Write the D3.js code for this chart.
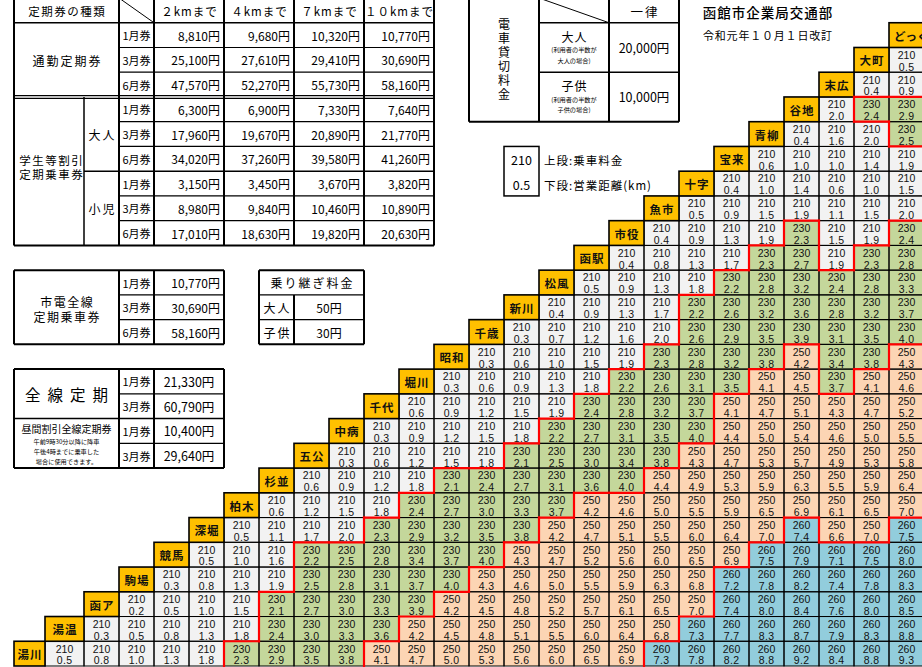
<!DOCTYPE html>
<html><head><meta charset="utf-8">
<script src="https://cdn.jsdelivr.net/npm/d3@7"></script>
<style>
html,body{margin:0;padding:0;background:#fff;}
svg{display:block;font-family:"Noto Sans CJK JP","Noto Sans",sans-serif;}
</style></head><body>
<svg id="c" width="922" height="667"></svg>
<script>
// ---------- data ----------
const stations = ["湯川","湯温","函ア","駒場","競馬","深堀","柏木","杉並","五公","中病","千代","堀川","昭和","千歳","新川","松風","函駅","市役","魚市","十字","宝来","青柳","谷地","末広","大町","どっく"];
// fareRows[r][i] : fare from station r to station r+1+i
const fareRows = [
 [210,210,210,210,210,230,230,230,230,250,250,250,250,250,250,250,250,260,260,260,260,260,260,260,260],
 [210,210,210,210,210,230,230,230,230,250,250,250,250,250,250,250,250,260,260,260,260,260,260,260],
 [210,210,210,210,230,230,230,230,230,250,250,250,250,250,250,250,250,260,260,260,260,260,260],
 [210,210,210,210,230,230,230,230,230,250,250,250,250,250,250,250,260,260,260,260,260,260],
 [210,210,210,230,230,230,230,230,230,250,250,250,250,250,250,250,260,260,260,260,260],
 [210,210,210,210,230,230,230,230,230,250,250,250,250,250,250,250,260,250,250,260],
 [210,210,210,210,230,230,230,230,230,250,250,250,250,250,250,250,250,250,250],
 [210,210,210,210,230,230,230,230,230,230,250,250,250,250,250,250,250,250],
 [210,210,210,210,210,230,230,230,230,230,250,250,250,250,250,250,250],
 [210,210,210,210,210,230,230,230,230,230,250,250,250,250,250,250],
 [210,210,210,210,210,230,230,230,230,250,250,250,250,250,250],
 [210,210,210,210,210,230,230,230,230,250,250,230,250,250],
 [210,210,210,210,210,230,230,230,230,250,230,230,250],
 [210,210,210,210,210,230,230,230,230,230,230,230],
 [210,210,210,210,230,230,230,230,230,230,230],
 [210,210,210,210,230,230,230,230,230,230],
 [210,210,210,210,230,230,210,230,230],
 [210,210,210,210,230,210,210,230],
 [210,210,210,210,210,210,210],
 [210,210,210,210,210,210],
 [210,210,210,210,210],
 [210,210,210,230],
 [210,230,230],
 [210,210],
 [210]
];
const distRows = [
 [0.5,0.8,1.0,1.3,1.8,2.3,2.9,3.5,3.8,4.1,4.7,5.0,5.3,5.6,6.0,6.5,6.9,7.3,7.8,8.2,8.8,9.2,8.4,8.8,9.3],
 [0.3,0.5,0.8,1.3,1.8,2.4,3.0,3.3,3.6,4.2,4.5,4.8,5.1,5.5,6.0,6.4,6.8,7.3,7.7,8.3,8.7,7.9,8.3,8.8],
 [0.2,0.5,1.0,1.5,2.1,2.7,3.0,3.3,3.9,4.2,4.5,4.8,5.2,5.7,6.1,6.5,7.0,7.4,8.0,8.4,7.6,8.0,8.5],
 [0.3,0.8,1.3,1.9,2.5,2.8,3.1,3.7,4.0,4.3,4.6,5.0,5.5,5.9,6.3,6.8,7.2,7.8,8.2,7.4,7.8,8.3],
 [0.5,1.0,1.6,2.2,2.5,2.8,3.4,3.7,4.0,4.3,4.7,5.2,5.6,6.0,6.5,6.9,7.5,7.9,7.1,7.5,8.0],
 [0.5,1.1,1.7,2.0,2.3,2.9,3.2,3.5,3.8,4.2,4.7,5.1,5.5,6.0,6.4,7.0,7.4,6.6,7.0,7.5],
 [0.6,1.2,1.5,1.8,2.4,2.7,3.0,3.3,3.7,4.2,4.6,5.0,5.5,5.9,6.5,6.9,6.1,6.5,7.0],
 [0.6,0.9,1.2,1.8,2.1,2.4,2.7,3.1,3.6,4.0,4.4,4.9,5.3,5.9,6.3,5.5,5.9,6.4],
 [0.3,0.6,1.2,1.5,1.8,2.1,2.5,3.0,3.4,3.8,4.3,4.7,5.3,5.7,4.9,5.3,5.8],
 [0.3,0.9,1.2,1.5,1.8,2.2,2.7,3.1,3.5,4.0,4.4,5.0,5.4,4.6,5.0,5.5],
 [0.6,0.9,1.2,1.5,1.9,2.4,2.8,3.2,3.7,4.1,4.7,5.1,4.3,4.7,5.2],
 [0.3,0.6,0.9,1.3,1.8,2.2,2.6,3.1,3.5,4.1,4.5,3.7,4.1,4.6],
 [0.3,0.6,1.0,1.5,1.9,2.3,2.8,3.2,3.8,4.2,3.4,3.8,4.3],
 [0.3,0.7,1.2,1.6,2.0,2.6,2.9,3.5,3.9,3.1,3.5,4.0],
 [0.4,0.9,1.3,1.7,2.2,2.6,3.2,3.6,2.8,3.2,3.7],
 [0.5,0.9,1.3,1.8,2.2,2.8,3.2,2.4,2.8,3.3],
 [0.4,0.8,1.3,1.7,2.3,2.7,1.9,2.3,2.8],
 [0.4,0.9,1.3,1.9,2.3,1.5,1.9,2.4],
 [0.5,0.9,1.5,1.9,1.1,1.5,2.0],
 [0.4,1.0,1.4,0.6,1.0,1.5],
 [0.6,1.0,1.0,1.4,1.9],
 [0.4,1.6,2.0,2.5],
 [2.0,2.4,2.9],
 [0.4,0.9],
 [0.5]
];
const fareLevels = [210,230,250,260];
const fareColors = ["#f2f2f2","#c4d79b","#fcd5b4","#92cddc"];

const distanceBands = ["２kmまで","４kmまで","７kmまで","１０kmまで"];
const periods = ["1月券","3月券","6月券"];
const commuterFares = [["8,810円","9,680円","10,320円","10,770円"],["25,100円","27,610円","29,410円","30,690円"],["47,570円","52,270円","55,730円","58,160円"]];
const studentAdultFares = [["6,300円","6,900円","7,330円","7,640円"],["17,960円","19,670円","20,890円","21,770円"],["34,020円","37,260円","39,580円","41,260円"]];
const studentChildFares = [["3,150円","3,450円","3,670円","3,820円"],["8,980円","9,840円","10,460円","10,890円"],["17,010円","18,630円","19,820円","20,630円"]];
const allLinePass = ["10,770円","30,690円","58,160円"];
const transferFares = [["大人","50円"],["子供","30円"]];
const zensenPeriods = ["1月券","3月券","1月券","3月券"];
const zensenFares = ["21,330円","60,790円","10,400円","29,640円"];
const charterFares = ["20,000円","10,000円"];

// ---------- layout ----------
const svg = d3.select("#c");
svg.append("rect").attr("width",922).attr("height",667).attr("fill","#fff");
const x = d3.scaleLinear().domain([0,1,2,27]).range([14,45,84,959]);
const y = d3.scaleLinear().domain([0,27]).range([-2,666]);
const color = d3.scaleOrdinal().domain(fareLevels).range(fareColors);
const fmt = d3.format(".1f");
const rowG = r => 26 - r;
const NUMFONT = '"Liberation Sans","DejaVu Sans",sans-serif';

const gT = svg.append("g");
function ln(x1,y1,x2,y2,w=1.5,col="#000"){ gT.append("line").attr("x1",x1).attr("y1",y1).attr("x2",x2).attr("y2",y2).attr("stroke",col).attr("stroke-width",w); }
function tx(s,xx,yy,size=12,anchor="middle",ls=0,weight=400){
  const dx = anchor==="middle" ? ls/2 : 0;
  return gT.append("text").attr("x",xx+dx).attr("y",yy).attr("font-size",size).attr("text-anchor",anchor)
    .attr("dominant-baseline","central").attr("letter-spacing",ls).attr("font-weight",weight).attr("fill","#000").text(s);
}
const cy = g => (y(g)+y(g+1))/2;

// ---- top-left season pass table ----
{
  const L=x(0), R=x(12);
  [x(0),x(3),x(4),x(6),x(8),x(10),x(12)].forEach(v=>ln(v,y(0),v,y(10),2));
  ln(x(2),y(4),x(2),y(10),1.5);
  ln(L,y(1),R,y(1));
  [2,3,5,6,8,9].forEach(g=>ln(x(3),y(g),R,y(g),1.2));
  ln(x(2),y(7),R,y(7),1.5);
  ln(L,y(4)-1.3,R,y(4)-1.3,1.3); ln(L,y(4)+1.5,R,y(4)+1.5,1.3);
  ln(L,y(10),R,y(10),2);
  ln(x(3),y(0),x(4),y(1),1);
  tx("定期券の種類",(x(0)+x(3))/2,cy(0)+1,11.5,"middle",1.5);
  distanceBands.forEach((d,i)=>tx(d,(x(4+2*i)+x(6+2*i))/2,cy(0)+1,11.5,"middle",1));
  tx("通勤定期券",(x(0)+x(3))/2,(y(1)+y(4))/2+1,12,"middle",2);
  tx("大人",(x(2)+x(3))/2,(y(4)+y(7))/2,12,"middle",2);
  tx("小児",(x(2)+x(3))/2,(y(7)+y(10))/2,12,"middle",2);
  tx("学生等割引",(x(0)+x(2))/2+2,159.5,11.5,"middle",1.5);
  tx("定期乗車券",(x(0)+x(2))/2+2,174,11.5,"middle",1.5);
  [commuterFares,studentAdultFares,studentChildFares].forEach((blk,bi)=>{
    blk.forEach((row,pi)=>{
      const g = 1+bi*3+pi;
      tx(periods[pi],(x(3)+x(4))/2,cy(g),11);
      row.forEach((v,ci)=>tx(v,x(6+2*ci)-4,cy(g),12,"end"));
    });
  });
}
// ---- 市電全線定期乗車券 ----
{
  [x(0),x(3),x(4),x(6)].forEach(v=>ln(v,y(11),v,y(14),2));
  ln(x(0),y(11),x(6),y(11),2); ln(x(0),y(14),x(6),y(14),2);
  ln(x(3),y(12),x(6),y(12),1.2); ln(x(3),y(13),x(6),y(13),1.2);
  tx("市電全線",(x(0)+x(3))/2,301,12,"middle",1.5);
  tx("定期乗車券",(x(0)+x(3))/2,316.5,12,"middle",1.5);
  allLinePass.forEach((v,i)=>{ tx(periods[i],(x(3)+x(4))/2,cy(11+i),11); tx(v,x(6)-4,cy(11+i),12,"end"); });
}
// ---- 乗り継ぎ料金 ----
{
  [x(7),x(10)].forEach(v=>ln(v,y(11),v,y(14),2));
  ln(x(8),y(12),x(8),y(14),2);
  ln(x(7),y(11),x(10),y(11),2); ln(x(7),y(14),x(10),y(14),2);
  ln(x(7),y(12),x(10),y(12),1.2); ln(x(7),y(13),x(10),y(13),1.2);
  tx("乗り継ぎ料金",(x(7)+x(10))/2,cy(11),12,"middle",2);
  transferFares.forEach((t,i)=>{ tx(t[0],(x(7)+x(8))/2,cy(12+i),12,"middle",2); tx(t[1],(x(8)+x(10))/2,cy(12+i),12); });
}
// ---- 全線定期 ----
{
  [x(0),x(3),x(4),x(6)].forEach(v=>ln(v,y(15),v,y(19),2));
  ln(x(0),y(15),x(6),y(15),2); ln(x(0),y(19),x(6),y(19),2);
  ln(x(0),y(17),x(6),y(17),1.5);
  ln(x(3),y(16),x(6),y(16),1.2); ln(x(3),y(18),x(6),y(18),1.2);
  tx("全線定期",(x(0)+x(3))/2,(y(15)+y(17))/2,15.5,"middle",7);
  tx("昼間割引全線定期券",(x(0)+x(3))/2,428.5,10);
  tx("午前9時30分以降に降車",(x(0)+x(3))/2,441,6.2);
  tx("午後4時までに乗車した",(x(0)+x(3))/2,451,6.2);
  tx("場合に使用できます。",(x(0)+x(3))/2,461,6.2);
  zensenFares.forEach((v,i)=>{ tx(zensenPeriods[i],(x(3)+x(4))/2,cy(15+i),11); tx(v,(x(4)+x(6))/2,cy(15+i),12.5); });
}
// ---- 電車貸切料金 ----
{
  [x(13),x(15),x(17),x(19)].forEach(v=>ln(v,y(0),v,y(5),2));
  ln(x(13),y(5),x(19),y(5),2);
  ln(x(15),y(1),x(19),y(1),1.5); ln(x(15),y(3),x(19),y(3),1.5);
  ln(x(15),y(0),x(17),y(1),1);
  gT.append("text").attr("x",(x(13)+x(15))/2).attr("y",60.5)
    .attr("writing-mode","vertical-rl").attr("text-anchor","middle")
    .attr("font-size",12).attr("letter-spacing",1.9).attr("fill","#000").text("電車貸切料金");
  tx("一律",(x(17)+x(19))/2,cy(0)+1,12.5,"middle",2);
  const cx = (x(15)+x(17))/2;
  tx("大人",cx,36.6,12,"middle",1);
  tx("(利用者の半数が",cx,49.8,6.2);
  tx("大人の場合)",cx,60.2,6.2);
  tx("子供",cx,85.8,12,"middle",1);
  tx("(利用者の半数が",cx,99.2,6.2);
  tx("子供の場合)",cx,109.2,6.2);
  charterFares.forEach((v,i)=>tx(v,(x(17)+x(19))/2,(y(1+2*i)+y(3+2*i))/2,12.5));
}
// ---- legend ----
{
  gT.append("rect").attr("x",x(14)).attr("y",y(6)).attr("width",x(15)-x(14)).attr("height",y(8)-y(6)).attr("fill","none").attr("stroke","#000").attr("stroke-width",1.5);
  tx("210",(x(14)+x(15))/2,cy(6)+0.5,12.5);
  tx("0.5",(x(14)+x(15))/2,cy(7)+0.5,12.5);
  tx("上段:乗車料金",544,cy(6)+1,11.5,"start",1);
  tx("下段:営業距離(km)",544,cy(7)+1,11.5,"start",1);
}
// ---- titles ----
tx("函館市企業局交通部",767.5,12,13.5,"middle",1,500);
tx("令和元年１０月１日改訂",767.5,35,11,"middle",0.8);

// ---------- fare triangle ----------
const cells = [];
fareRows.forEach((row,r)=>row.forEach((f,i)=>cells.push({r, c:r+1+i, fare:f, dist:distRows[r][i]})));
const fareAt = (r,c)=>{ if(c<=r||r<0||r>=fareRows.length) return null; const row=fareRows[r]; const i=c-r-1; return i<row.length?row[i]:null; };
const rh = y(1)-y(0);
const gC = svg.append("g");
gC.selectAll("rect.f").data(cells).join("rect").attr("class","f")
  .attr("x",d=>x(d.c)).attr("y",d=>y(rowG(d.r))).attr("width",d=>x(d.c+1)-x(d.c)).attr("height",rh)
  .attr("fill",d=>color(d.fare));
gC.selectAll("text.fa").data(cells).join("text").attr("class","fa")
  .attr("x",d=>(x(d.c)+x(d.c+1))/2).attr("y",d=>y(rowG(d.r))+11.3)
  .attr("text-anchor","middle").attr("font-family",NUMFONT).attr("font-size",10.5).attr("fill","#111").text(d=>d.fare);
gC.selectAll("text.di").data(cells).join("text").attr("class","di")
  .attr("x",d=>(x(d.c)+x(d.c+1))/2+0.2).attr("y",d=>y(rowG(d.r))+23.2)
  .attr("text-anchor","middle").attr("font-family",NUMFONT).attr("font-size",10.5).attr("letter-spacing",0.4).attr("fill","#111").text(d=>fmt(d.dist));
gC.selectAll("rect.b").data(cells).join("rect").attr("class","b")
  .attr("x",d=>x(d.c)).attr("y",d=>y(rowG(d.r))).attr("width",d=>x(d.c+1)-x(d.c)).attr("height",rh)
  .attr("fill","none").attr("stroke","#000").attr("stroke-width",1);

// station labels on the diagonal
const labels = stations.map((s,r)=>({s,r}));
gC.selectAll("rect.lab").data(labels).join("rect").attr("class","lab")
  .attr("x",d=>x(d.r)).attr("y",d=>y(rowG(d.r))).attr("width",d=>x(d.r+1)-x(d.r)).attr("height",rh)
  .attr("fill","#ffc000").attr("stroke","#000").attr("stroke-width",1.6);
gC.selectAll("text.lab").data(labels).join("text").attr("class","lab")
  .attr("x",d=>d.s.length>2 ? x(d.r)+5 : (x(d.r)+x(d.r+1))/2+0.6)
  .attr("y",d=>y(rowG(d.r))+rh/2+0.5).attr("dominant-baseline","central")
  .attr("text-anchor",d=>d.s.length>2?"start":"middle")
  .attr("font-size",11.5).attr("font-weight",700).attr("letter-spacing",d=>d.s.length>2?0:1.2).attr("fill","#111").text(d=>d.s);

// red fare-zone boundaries
const segs = [];
cells.forEach(d=>{
  const g = rowG(d.r);
  const right = fareAt(d.r,d.c+1);
  if(right!==null && right!==d.fare) segs.push([x(d.c+1),y(g),x(d.c+1),y(g+1)]);
  const up = fareAt(d.r+1,d.c);
  if(up!==null && up!==d.fare) segs.push([x(d.c),y(g),x(d.c+1),y(g)]);
});
gC.selectAll("line.red").data(segs).join("line").attr("class","red")
  .attr("x1",d=>d[0]).attr("y1",d=>d[1]).attr("x2",d=>d[2]).attr("y2",d=>d[3])
  .attr("stroke","#ff0000").attr("stroke-width",2.2).attr("stroke-linecap","square");
</script>
</body></html>
